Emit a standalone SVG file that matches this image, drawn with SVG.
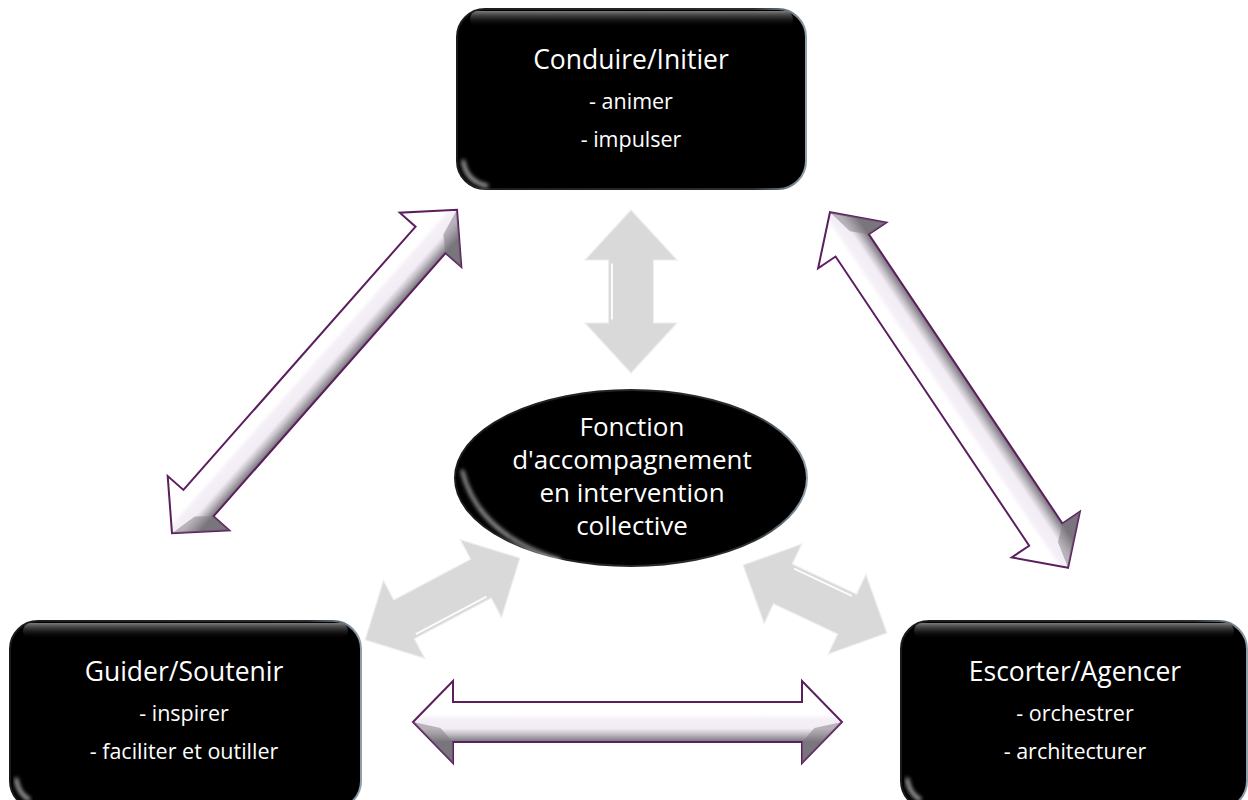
<svg xmlns="http://www.w3.org/2000/svg" width="1248" height="800" viewBox="0 0 1248 800">
  <defs>
    <style>
      .title { font-family: "Open Sans", "Liberation Sans", sans-serif; font-size: 26.5px; fill: #ffffff; text-anchor: middle; }
      .sub { font-family: "Open Sans", "Liberation Sans", sans-serif; font-size: 21.5px; fill: #ffffff; text-anchor: middle; }
      .center { font-family: "Open Sans", "Liberation Sans", sans-serif; font-size: 26px; fill: #ffffff; text-anchor: middle; }
      .box { fill: #000000; stroke: url(#rim); stroke-width: 2; }
      .purple { fill: url(#pgrad); stroke: #5b1f5e; stroke-width: 2; stroke-linejoin: miter; }
      .gray { fill: #d9d9d9; stroke: #eeeeee; stroke-width: 1.2; }
      .hl { fill: none; stroke: #ffffff; stroke-width: 2; opacity: 0.9; }
    </style>
    <linearGradient id="rim" x1="0" y1="0" x2="1" y2="0">
      <stop offset="0" stop-color="#1a1a1a"/>
      <stop offset="0.85" stop-color="#2a2f33"/>
      <stop offset="1" stop-color="#8fa0ad"/>
    </linearGradient>
    <linearGradient id="tophl" x1="0" y1="0" x2="0" y2="1">
      <stop offset="0" stop-color="#8a8a8a" stop-opacity="0.9"/>
      <stop offset="1" stop-color="#000000" stop-opacity="0"/>
    </linearGradient>
    <linearGradient id="pgrad" gradientUnits="userSpaceOnUse" x1="0" y1="-20" x2="0" y2="20">
      <stop offset="0" stop-color="#ffffff"/>
      <stop offset="0.3" stop-color="#ffffff"/>
      <stop offset="0.42" stop-color="#f5f0f7"/>
      <stop offset="0.66" stop-color="#f2edf4"/>
      <stop offset="0.8" stop-color="#c4bfc6"/>
      <stop offset="1" stop-color="#77737a"/>
    </linearGradient>
    <filter id="blur2" x="-20%" y="-20%" width="140%" height="140%">
      <feGaussianBlur stdDeviation="2"/>
    </filter>
  </defs>

  <!-- connectors -->
  <g id="connectors">
    <!-- left diagonal purple arrow -->
    <g transform="translate(314.5,371.5) rotate(-48.6)">
      <path class="purple" d="M -215.5,0 L -175.5,-41 L -175.5,-20 L 175.5,-20 L 175.5,-41 L 215.5,0 L 175.5,41 L 175.5,20 L -175.5,20 L -175.5,41 Z"/>
      <path d="M 175.5,20 L 175.5,41 L 215.5,0 L 188,6 Z" fill="#7c787e" opacity="0.5"/>
      <path d="M -175.5,20 L -175.5,41 L -215.5,0 L -188,6 Z" fill="#7c787e" opacity="0.5"/>
    </g>
    <!-- right diagonal purple arrow -->
    <g transform="translate(949,390) rotate(236.2)">
      <path class="purple" d="M -214,0 L -174,-41 L -174,-20 L 174,-20 L 174,-41 L 214,0 L 174,41 L 174,20 L -174,20 L -174,41 Z"/>
      <path d="M 174,20 L 174,41 L 214,0 L 187,6 Z" fill="#7c787e" opacity="0.5"/>
      <path d="M -174,20 L -174,41 L -214,0 L -187,6 Z" fill="#7c787e" opacity="0.5"/>
    </g>
    <!-- bottom horizontal purple arrow -->
    <g transform="translate(627.5,722)">
      <path class="purple" d="M -214.5,0 L -174.5,-41 L -174.5,-20 L 174.5,-20 L 174.5,-41 L 214.5,0 L 174.5,41 L 174.5,20 L -174.5,20 L -174.5,41 Z"/>
      <path d="M 174.5,20 L 174.5,41 L 214.5,0 L 187,6 Z" fill="#7c787e" opacity="0.5"/>
      <path d="M -174.5,20 L -174.5,41 L -214.5,0 L -187,6 Z" fill="#7c787e" opacity="0.5"/>
    </g>
    <!-- gray vertical arrow -->
    <g transform="translate(631,291.5) rotate(90)">
      <path class="gray" d="M -81.5,0 L -31.5,-46 L -31.5,-22.5 L 31.5,-22.5 L 31.5,-46 L 81.5,0 L 31.5,46 L 31.5,22.5 L -31.5,22.5 L -31.5,46 Z"/>
      <path class="hl" d="M -28,19 L 28,19"/>
    </g>
    <!-- gray lower-left arrow -->
    <g transform="translate(442.5,599) rotate(-27.9)">
      <path class="gray" d="M -87.5,0 L -43.5,-44 L -43.5,-22 L 43.5,-22 L 43.5,-44 L 87.5,0 L 43.5,44 L 43.5,22 L -43.5,22 L -43.5,44 Z"/>
      <path class="hl" d="M -40,18.5 L 40,18.5"/>
    </g>
    <!-- gray lower-right arrow -->
    <g transform="translate(815,599) rotate(205.3)">
      <path class="gray" d="M -79.5,0 L -35.5,-44 L -35.5,-22 L 35.5,-22 L 35.5,-44 L 79.5,0 L 35.5,44 L 35.5,22 L -35.5,22 L -35.5,44 Z"/>
      <path class="hl" d="M -32,18.5 L 32,18.5"/>
    </g>
  </g>

  <!-- top node -->
  <g id="node-conduire">
    <rect class="box" x="457" y="9" width="349" height="180" rx="28" ry="28"/>
    <rect x="470" y="11" width="323" height="16" rx="8" fill="url(#tophl)"/>
    <path d="M 463,160 Q 466,182 488,186" fill="none" stroke="#ffffff" stroke-width="3" filter="url(#blur2)" opacity="0.85"/>
    <text class="title" x="631" y="69">Conduire/Initier</text>
    <text class="sub" x="631" y="109">- animer</text>
    <text class="sub" x="631" y="147">- impulser</text>
  </g>

  <!-- bottom left node -->
  <g id="node-guider">
    <rect class="box" x="10" y="621" width="351" height="188" rx="28" ry="28"/>
    <rect x="23" y="623" width="325" height="16" rx="8" fill="url(#tophl)"/>
    <path d="M 16,778 Q 18,794 30,800" fill="none" stroke="#ffffff" stroke-width="3" filter="url(#blur2)" opacity="0.85"/>
    <text class="title" x="184" y="681">Guider/Soutenir</text>
    <text class="sub" x="184" y="721">- inspirer</text>
    <text class="sub" x="184" y="759">- faciliter et outiller</text>
  </g>

  <!-- bottom right node -->
  <g id="node-escorter">
    <rect class="box" x="901" y="621" width="346" height="188" rx="28" ry="28"/>
    <rect x="914" y="623" width="320" height="16" rx="8" fill="url(#tophl)"/>
    <path d="M 907,778 Q 909,794 921,800" fill="none" stroke="#ffffff" stroke-width="3" filter="url(#blur2)" opacity="0.85"/>
    <text class="title" x="1075" y="681">Escorter/Agencer</text>
    <text class="sub" x="1075" y="721">- orchestrer</text>
    <text class="sub" x="1075" y="759">- architecturer</text>
  </g>

  <!-- center node -->
  <g id="node-fonction">
    <ellipse cx="631" cy="478" rx="176" ry="88" fill="#000000" stroke="url(#rim)" stroke-width="2"/>
    <path d="M 462,470 Q 478,535 560,560" fill="none" stroke="#ffffff" stroke-width="3" filter="url(#blur2)" opacity="0.8"/>
    <text class="center" x="632" y="436">Fonction</text>
    <text class="center" x="632" y="469">d'accompagnement</text>
    <text class="center" x="632" y="502">en intervention</text>
    <text class="center" x="632" y="535">collective</text>
  </g>
</svg>
